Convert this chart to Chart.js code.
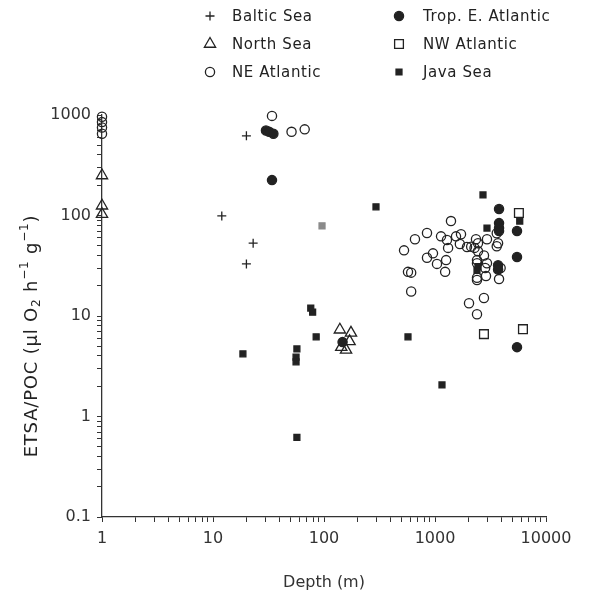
<!DOCTYPE html>
<html>
<head>
<meta charset="utf-8">
<script src="https://cdn.jsdelivr.net/npm/chart.js@4.4.1/dist/chart.umd.min.js"></script>
<style>
  html, body { margin: 0; padding: 0; background: #fff; }
  #wrap { width: 598px; height: 600px; }
</style>
</head>
<body>
<div id="wrap"><canvas id="chart" width="598" height="600"></canvas></div>
<script>
// depth (m) / ETSA:POC pairs
const balticDepth = [20, 12, 23, 20];
const balticRate  = [620, 99, 53, 33];

const northSeaDepth = [1, 1, 1, 139, 175, 170, 143, 158];
const northSeaRate  = [250, 125, 103, 7.3, 6.8, 5.6, 4.9, 4.6];

const neAtlDepth = [1, 1, 1, 1, 34, 51, 67,
  1393, 847, 660, 526, 1133, 1282, 1546, 1715, 1312, 1675, 959, 847, 1042, 1259, 1234,
  571, 610, 610, 1942, 2118, 2340, 2440, 2940, 2440, 2763, 2390, 2940, 2830, 2390, 2880,
  3600, 3600, 3900, 3775, 2760, 2025, 2390, 2270, 2390, 2390, 3700];
const neAtlRate = [960, 850, 750, 650, 980, 680, 720,
  88, 67, 58, 45, 62, 57, 62, 65, 47.6, 52, 42, 38, 33, 36, 27.5,
  27.5, 27, 17.5, 48.6, 49, 58, 53, 58, 44, 40, 33.5, 33.5, 30, 22.8, 25,
  49.5, 66.5, 30, 23.3, 15.1, 13.4, 10.4, 47.6, 36, 24, 53];

const tropDepth = [30, 32, 35, 34, 147, 3775, 3775, 3775, 3775, 5480, 5480, 5480, 3700, 3700];
const tropRate  = [700, 680, 650, 225, 5.5, 116, 84, 75, 70, 70, 38.6, 4.9, 32, 29];

const nwAtlDepth = [5700, 2760, 6200];
const nwAtlRate  = [106, 6.6, 7.4];

const javaDepth = [18.6, 57, 56, 56, 57, 76, 79, 85, 96, 294, 571, 1156, 2706, 2940, 2390, 2440, 5800];
const javaRate  = [4.2, 4.7, 3.9, 3.5, 0.62, 12, 10.9, 6.2, 79, 122, 6.2, 2.06, 160, 75, 28.5, 31, 88];

const seriesNames = ['Baltic Sea', 'North Sea', 'NE Atlantic', 'Trop. E. Atlantic', 'NW Atlantic', 'Java Sea'];

const xDecades = [1, 10, 100, 1000, 10000];
const yDecades = [0.1, 1, 10, 100, 1000];

const ink = '#222';
const FONT = '"DejaVu Sans", sans-serif';

function pairs(xs, ys) {
    return xs.map((x, i) => ({ x: x, y: ys[i] }));
}

// marker look per series (legend uses the same)
const markers = [
    { pointStyle: 'cross',    radius: 4.5, filled: false },
    { pointStyle: 'triangle', radius: 6.5, filled: false },
    { pointStyle: 'circle',   radius: 4.6, filled: false },
    { pointStyle: 'circle',   radius: 4.6, filled: true },
    { pointStyle: 'rect',     radius: 6.2, filled: false },
    { pointStyle: 'rect',     radius: 4.2, filled: true },
];

const seriesData = [
    pairs(balticDepth, balticRate),
    pairs(northSeaDepth, northSeaRate),
    pairs(neAtlDepth, neAtlRate),
    pairs(tropDepth, tropRate),
    pairs(nwAtlDepth, nwAtlRate),
    pairs(javaDepth, javaRate),
];

const datasets = seriesNames.map((name, i) => ({
    label: name,
    data: seriesData[i],
    pointStyle: markers[i].pointStyle,
    pointRadius: markers[i].radius,
    pointHoverRadius: markers[i].radius,
    pointBorderWidth: 1.3,
    pointBorderColor: (i === 5) ? (c => c.dataIndex === 8 ? '#8a8a8a' : ink) : ink,
    pointBackgroundColor: markers[i].filled
        ? ((i === 5) ? (c => c.dataIndex === 8 ? '#8a8a8a' : ink) : ink)
        : 'rgba(255,255,255,0)',
    showLine: false,
    clip: false,
}));

// decade + minor ticks (2..9) for the log axes
function logTicks(scale) {
    const out = [];
    const lo = Math.round(Math.log10(scale.min));
    const hi = Math.round(Math.log10(scale.max));
    for (let e = lo; e <= hi; e++) {
        for (let k = 1; k <= 9; k++) {
            if (e === hi && k > 1) break;
            out.push({ value: parseFloat((k * Math.pow(10, e)).toPrecision(3)) });
        }
    }
    scale.ticks = out;
}

function decadeLabel(decades) {
    return function (value) {
        return decades.indexOf(value) >= 0 ? String(value) : '';
    };
}

// simple marker drawing for the legend
function drawMarker(ctx, m, x, y) {
    const r = m.radius;
    ctx.beginPath();
    if (m.pointStyle === 'cross') {
        ctx.moveTo(x - r, y); ctx.lineTo(x + r, y);
        ctx.moveTo(x, y - r); ctx.lineTo(x, y + r);
    } else if (m.pointStyle === 'triangle') {
        ctx.moveTo(x, y - r);
        ctx.lineTo(x + r * 0.866, y + r / 2);
        ctx.lineTo(x - r * 0.866, y + r / 2);
        ctx.closePath();
    } else if (m.pointStyle === 'circle') {
        ctx.arc(x, y, r, 0, Math.PI * 2);
    } else {
        const s = r * Math.SQRT1_2;
        ctx.rect(x - s, y - s, 2 * s, 2 * s);
    }
    if (m.filled) ctx.fill();
    ctx.stroke();
}

const legendPlugin = {
    id: 'twoColLegend',
    afterDraw(chart) {
        const ctx = chart.ctx;
        ctx.save();
        ctx.strokeStyle = ink;
        ctx.fillStyle = ink;
        ctx.lineWidth = 1.3;
        ctx.font = '15px ' + FONT;
        ctx.letterSpacing = '0.6px';
        ctx.textBaseline = 'middle';
        chart.data.datasets.forEach((ds, i) => {
            const col = Math.floor(i / 3), row = i % 3;
            const mx = col === 0 ? 210 : 399;
            const tx = col === 0 ? 232 : 423;
            const y = 16 + row * 28;
            drawMarker(ctx, markers[i], mx, y);
            ctx.fillText(ds.label, tx, y + 1);
        });
        ctx.restore();
    }
};

// y title with sub/superscripts
const yTitlePlugin = {
    id: 'yTitle',
    afterDraw(chart) {
        const ctx = chart.ctx;
        const runs = [
            ['ETSA/POC (\u00b5l O', 0], ['2', 5], [' h', 0], ['\u22121', -7],
            [' g', 0], ['\u22121', -7], [')', 0]
        ];
        ctx.save();
        ctx.fillStyle = ink;
        ctx.textBaseline = 'middle';
        ctx.letterSpacing = '0.8px';
        const fontFor = r => (r[1] === 0 ? '18px ' : '12px ') + FONT;
        let total = 0;
        runs.forEach(r => { ctx.font = fontFor(r); total += ctx.measureText(r[0]).width; });
        ctx.translate(32, 336);
        ctx.rotate(-Math.PI / 2);
        let x = -total / 2;
        runs.forEach(r => {
            ctx.font = fontFor(r);
            ctx.fillText(r[0], x, r[1]);
            x += ctx.measureText(r[0]).width;
        });
        ctx.restore();
    }
};

new Chart(document.getElementById('chart'), {
    type: 'scatter',
    data: { datasets: datasets },
    options: {
        responsive: false,
        animation: false,
        events: [],
        layout: { padding: { top: 115, right: 52, left: 0, bottom: 0 } },
        plugins: { legend: { display: false }, tooltip: { enabled: false } },
        scales: {
            x: {
                type: 'logarithmic',
                min: 1, max: 10000,
                afterBuildTicks: logTicks,
                afterFit: s => { s.height = 83; },
                grid: { display: true, drawOnChartArea: false, tickLength: 5, tickColor: '#333', lineWidth: 1 },
                border: { display: true, color: '#333', width: 1.3 },
                ticks: {
                    autoSkip: false, maxRotation: 0, padding: 7,
                    color: '#333', font: { family: FONT, size: 16 },
                    callback: decadeLabel(xDecades)
                },
                title: {
                    display: true, text: 'Depth (m)', color: '#333',
                    font: { family: FONT, size: 16 }, padding: { top: 4, bottom: 8 }
                }
            },
            y: {
                type: 'logarithmic',
                min: 0.1, max: 1000,
                afterBuildTicks: logTicks,
                afterFit: s => { s.width = 102; },
                grid: { display: true, drawOnChartArea: false, tickLength: 5, tickColor: '#333', lineWidth: 1 },
                border: { display: true, color: '#333', width: 1.3 },
                ticks: {
                    autoSkip: false, padding: 6,
                    color: '#333', font: { family: FONT, size: 16 },
                    callback: decadeLabel(yDecades)
                }
            }
        }
    },
    plugins: [legendPlugin, yTitlePlugin]
});
</script>
</body>
</html>
